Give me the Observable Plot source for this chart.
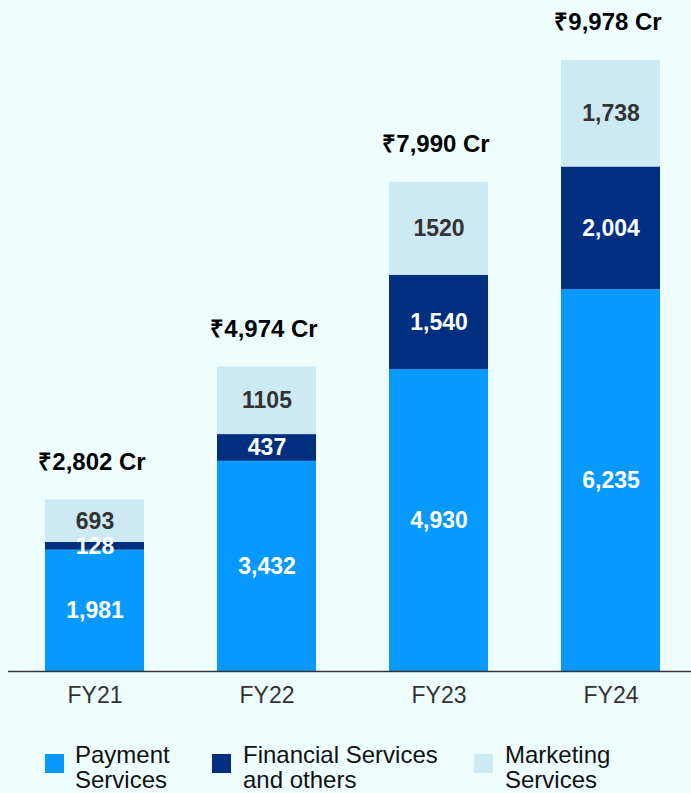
<!DOCTYPE html>
<html>
<head>
<meta charset="utf-8">
<script src="https://cdn.jsdelivr.net/npm/d3@7"></script>
<script src="https://cdn.jsdelivr.net/npm/@observablehq/plot@0.6"></script>
<style>
  html, body { margin: 0; padding: 0; background: #eefeff; }
  #wrap { position: relative; width: 691px; height: 793px; background: #eefeff; overflow: hidden;
          font-family: "Liberation Sans", Arial, Helvetica, sans-serif; }
  #chart svg { display: block; }
  .lg-sw { position: absolute; width: 19px; height: 19px; }
  .lg-tx { position: absolute; font-size: 24px; line-height: 25px; color: #111; white-space: nowrap; }
</style>
</head>
<body>
<div id="wrap">
  <div id="chart"></div>
  <div id="legend"></div>
</div>
<script>
const years = ["FY21", "FY22", "FY23", "FY24"];
const seriesNames = ["Payment Services", "Financial Services and others", "Marketing Services"];
const payment = [1981, 3432, 4930, 6235];
const financial = [128, 437, 1540, 2004];
const marketing = [693, 1105, 1520, 1738];
const paymentLabels = ["1,981", "3,432", "4,930", "6,235"];
const financialLabels = ["128", "437", "1,540", "2,004"];
const marketingLabels = ["693", "1105", "1520", "1,738"];
const totals = [2802, 4974, 7990, 9978];
const totalLabels = ["₹2,802 Cr", "₹4,974 Cr", "₹7,990 Cr", "₹9,978 Cr"];
const colors = ["#0799ff", "#002f80", "#cde9f3"];

const data = [];
years.forEach((yr, i) => {
  data.push({year: yr, series: seriesNames[0], value: payment[i], label: paymentLabels[i]});
  data.push({year: yr, series: seriesNames[1], value: financial[i], label: financialLabels[i]});
  data.push({year: yr, series: seriesNames[2], value: marketing[i], label: marketingLabels[i]});
});
const totalData = years.map((yr, i) => ({year: yr, total: totals[i], label: totalLabels[i]}));

const font = '"Liberation Sans", Arial, Helvetica, sans-serif';

const chart = Plot.plot({
  width: 691,
  height: 730,
  marginTop: 60,
  marginBottom: 59,
  marginLeft: 14,
  marginRight: 0,
  style: {background: "transparent", fontFamily: font},
  x: {domain: years, paddingInner: 0.424, paddingOuter: 0.18, label: null},
  y: {domain: [0, 9978], axis: null},
  color: {domain: seriesNames, range: colors},
  marks: [
    Plot.barY(data, {x: "year", y: "value", fill: "series"}),
    Plot.text(data, Plot.stackY({x: "year", y: "value",
        text: d => d.series === seriesNames[2] ? "" : d.label,
        fill: "white", fontSize: 23, fontWeight: "bold"})),
    Plot.text(data, Plot.stackY({x: "year", y: "value",
        text: d => d.series === seriesNames[2] ? d.label : "",
        fill: "#333", fontSize: 23, fontWeight: "bold"})),
    Plot.text(totalData, {x: "year", y: "total", text: "label", dy: -38, dx: -3,
      fill: "#000", fontSize: 24, fontWeight: "bold"}),
    Plot.ruleY([0], {stroke: "#333", strokeWidth: 1.5, insetLeft: -6}),
    Plot.axisX({tickSize: 0, tickPadding: 15, fontSize: 23, fill: "#333", label: null})
  ]
});
document.getElementById("chart").appendChild(chart);

// legend (HTML, below the SVG)
const legend = document.getElementById("legend");
const legendItems = [
  {sw: 45, tx: 75, lines: ["Payment", "Services"]},
  {sw: 212, tx: 243, lines: ["Financial Services", "and others"]},
  {sw: 474, tx: 505, lines: ["Marketing", "Services"]}
];
legendItems.forEach((it, i) => {
  const s = document.createElement("div");
  s.className = "lg-sw";
  s.style.left = it.sw + "px";
  s.style.top = "754px";
  s.style.background = colors[i];
  legend.appendChild(s);
  const t = document.createElement("div");
  t.className = "lg-tx";
  t.style.left = it.tx + "px";
  t.style.top = "742px";
  t.innerHTML = it.lines.join("<br>");
  legend.appendChild(t);
});
</script>
</body>
</html>
